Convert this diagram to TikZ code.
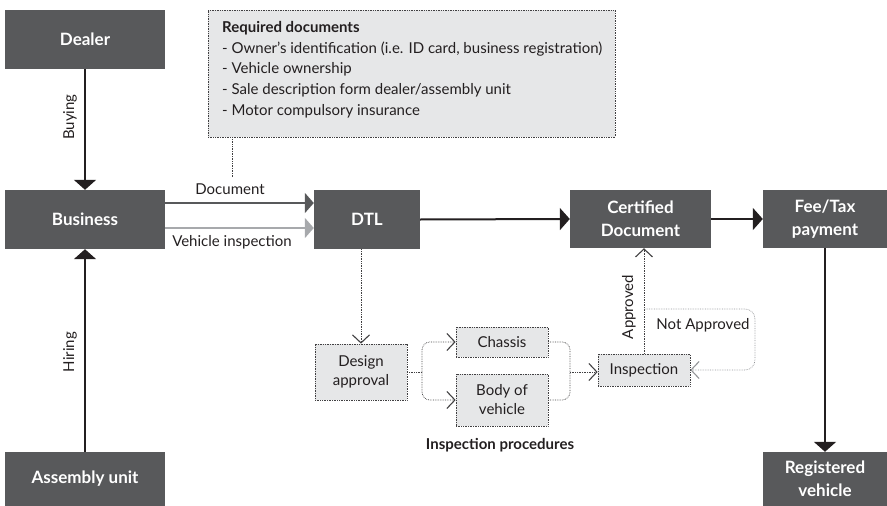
\documentclass[tikz,border=0pt]{standalone}
\usepackage{fontspec}
\setmainfont{Lato}
\usetikzlibrary{arrows.meta,calc}
\definecolor{boxdark}{HTML}{58595B}
\definecolor{boxlight}{HTML}{E6E7E8}
\definecolor{linedark}{HTML}{231F20}
\definecolor{linemid}{HTML}{58595B}
\definecolor{linelight}{HTML}{A7A9AC}
\definecolor{dotgray}{HTML}{414042}
\definecolor{dotlight}{HTML}{939598}
\begin{document}
\begin{tikzpicture}[x=1pt,y=-1pt,
  darkbox/.style={fill=boxdark, text=white, font=\fontsize{17}{23}\selectfont\bfseries, align=center, inner sep=0pt},
  lightbox/.style={fill=boxlight, draw=dotgray, densely dotted, line width=0.7pt, font=\fontsize{15}{19}\selectfont, align=center, inner sep=0pt, text=linedark},
  lbl/.style={font=\fontsize{15}{17}\selectfont, text=linedark, inner sep=0pt},
  mainarrow/.style={line width=2pt, draw=linedark, -{Triangle[width=22pt,length=10pt]}},
  docarrow/.style={line width=2pt, draw=linemid, -{Triangle[width=20pt,length=9pt,fill=linemid]}},
  veharrow/.style={line width=2pt, draw=linelight, -{Triangle[width=20pt,length=9pt,fill=linelight]}},
  dotline/.style={densely dotted, line width=0.7pt, draw=dotgray},
  dotarrow/.style={dotline, -{Straight Barb[length=8pt,width=17pt,line width=1.1pt]}},
  dotlightarrow/.style={densely dotted, line width=0.7pt, draw=dotlight, -{Straight Barb[length=8pt,width=17pt,line width=1.1pt]}}
]
\useasboundingbox (0,0) rectangle (887,506);

% dark boxes
\node[darkbox, minimum width=160pt, minimum height=59pt] (dealer) at (85,39.5) {Dealer};
\node[darkbox, minimum width=160pt, minimum height=59pt] (business) at (85,219.5) {Business};
\node[darkbox, minimum width=160pt, minimum height=54pt] (assembly) at (85,479) {Assembly unit};
\node[darkbox, minimum width=106pt, minimum height=59pt] (dtl) at (367,219.5) {DTL};
\node[darkbox, minimum width=141pt, minimum height=58pt] (cert) at (640.5,219) {Certified\\Document};
\node[darkbox, minimum width=124pt, minimum height=58pt] (fee) at (825,219) {Fee/Tax\\payment};
\node[darkbox, minimum width=124pt, minimum height=54pt] (reg) at (825,479) {Registered\\vehicle};

% required documents box
\node[fill=boxlight, draw=dotgray, densely dotted, line width=0.7pt, minimum width=407pt, minimum height=127pt, inner sep=0pt] (req) at (411.5,73.5) {};
\node[anchor=north west, align=left, inner sep=0pt, text=linedark, font=\fontsize{15}{20.7}\selectfont] (reqtext) at (222,21)
  {\textbf{Required documents}\\
   - Owner’s identification (i.e. ID card, business registration)\\
   - Vehicle ownership\\
   - Sale description form dealer/assembly unit\\
   - Motor compulsory insurance};
\coordinate (reqfoot) at (232,178);
\draw[dotline] (reqfoot |- req.south) -- (reqfoot);

% light boxes
\node[lightbox, minimum width=92pt, minimum height=56pt] (design) at (361,372) {Design\\approval};
\node[lightbox, minimum width=92pt, minimum height=30pt] (chassis) at (502,342) {Chassis};
\node[lightbox, minimum width=92pt, minimum height=52pt] (body) at (502,400) {Body of\\vehicle};
\node[lightbox, minimum width=92pt, minimum height=32pt] (insp) at (644,370) {Inspection};

% main connectors
\draw[mainarrow] (dealer.south) -- (business.north);
\draw[mainarrow] (assembly.north) -- (business.south);
\draw[docarrow] ($(business.east)+(0,-16.5)$) -- ($(dtl.west)+(0,-16.5)$);
\draw[veharrow] ($(business.east)+(0,8.5)$) -- ($(dtl.west)+(0,8.5)$);
\draw[mainarrow] (dtl.east) -- (cert.west);
\draw[mainarrow] (cert.east) -- (fee.west);
\draw[mainarrow] (fee.south) -- (reg.north);

% labels
\node[lbl, rotate=90] (buying) at (70,117) {Buying};
\node[lbl, rotate=90] (hiring) at (70,352) {Hiring};
\node[lbl] (doclbl) at (230,189) {Document};
\node[lbl] (vehlbl) at (232,242) {Vehicle inspection};
\node[lbl, rotate=90] (applbl) at (629,307) {Approved};
\node[lbl] (notlbl) at (703,325) {Not Approved};
\node[lbl, font=\fontsize{15}{17}\selectfont\bfseries] (proc) at (500,445) {Inspection procedures};

% dotted process connectors
\draw[dotarrow] (design.north |- dtl.south) -- (design.north);
\coordinate (split) at (422,372);
\coordinate (merge) at (570,372);
\draw[dotline] (design.east) -- (split);
\draw[dotarrow, rounded corners=8pt] (split) -- (split |- chassis.west) -- (chassis.west);
\draw[dotarrow, rounded corners=8pt] (split) -- (split |- body.west) -- (body.west);
\draw[dotline, rounded corners=8pt] (chassis.east) -- (merge |- chassis.east) -- (merge);
\draw[dotline, rounded corners=8pt] (body.east) -- (merge |- body.east) -- (merge);
\draw[dotarrow] (merge) -- (insp.west |- merge);
\draw[dotarrow] (insp.north) -- (insp.north |- cert.south);
\coordinate (nabranch) at (644,309);
\coordinate (nacorner) at (755,309);
\draw[dotlightarrow, rounded corners=10pt] (nabranch) -- (nacorner) -- (nacorner |- insp.east) -- (insp.east);
\end{tikzpicture}
\end{document}
